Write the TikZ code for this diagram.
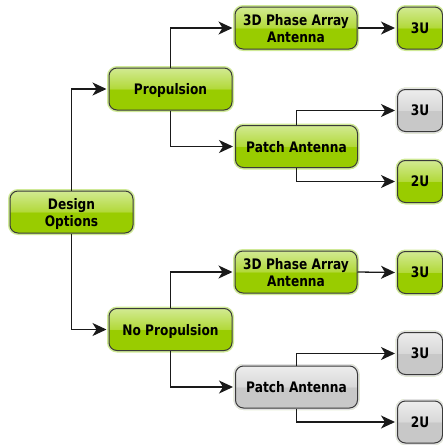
\documentclass[tikz,border=0pt]{standalone}
\usepackage{fontspec}
\setmainfont{DejaVu Sans}[FakeStretch=0.84]
\usetikzlibrary{arrows.meta}
\definecolor{gbot}{HTML}{99CC00}
\definecolor{gmid}{HTML}{B2D93A}
\definecolor{gtop}{HTML}{D2EA92}
\definecolor{gglow}{HTML}{CFE996}
\definecolor{kbot}{HTML}{C8C8C8}
\definecolor{kmid}{HTML}{D8D8D8}
\definecolor{ktop}{HTML}{EDEDED}
\definecolor{kglow}{HTML}{E2E2E2}
\definecolor{edge}{HTML}{3A3A3A}
\definecolor{wire}{HTML}{1A1A1A}
\pgfdeclareverticalshading{glossgreen}{100bp}{color(0bp)=(gbot); color(25bp)=(gbot);
  color(49.5bp)=(gbot); color(50.5bp)=(gmid); color(75bp)=(gtop); color(100bp)=(gtop)}
\pgfdeclareverticalshading{glossgrey}{100bp}{color(0bp)=(kbot); color(25bp)=(kbot);
  color(49.5bp)=(kbot); color(50.5bp)=(kmid); color(75bp)=(ktop); color(100bp)=(ktop)}
\tikzset{
  optbox/.style={draw=edge, line width=1pt, rounded corners=8pt, align=center,
    minimum width=123pt, minimum height=42pt, inner sep=2pt, shade, shading=glossgreen,
    font=\fontsize{14.5}{17}\selectfont\bfseries, text depth=0pt,
    preaction={draw=gglow, line width=4pt}},
  greybox/.style={optbox, shading=glossgrey, preaction={draw=kglow, line width=4pt}},
  sizebox/.style={optbox, minimum width=45pt},
  greysize/.style={greybox, minimum width=45pt},
  arr/.style={-{Stealth[length=14pt, width=13pt, inset=4pt]}, line width=1.3pt, draw=wire,
    shorten >=2pt}
}
\begin{document}
\begin{tikzpicture}[x=1pt,y=-1pt]
  \useasboundingbox (0,0) rectangle (443,445);
  % options
  \node[optbox] (design) at (71.5,212) {Design\\Options};
  \node[optbox] (prop) at (170.5,89) {Propulsion};
  \node[optbox] (noprop) at (170.5,329.5) {No Propulsion};
  % antennas
  \node[optbox, minimum width=122pt] (phaseA) at (296,28) {3D Phase Array\\Antenna};
  \node[optbox, minimum width=122pt] (patchA) at (296.5,146.5) {Patch Antenna};
  \node[optbox, minimum width=122pt] (phaseB) at (296,272) {3D Phase Array\\Antenna};
  \node[greybox, minimum width=122pt] (patchB) at (296.5,387) {Patch Antenna};
  % sizes
  \node[sizebox] (sizeA) at (420,28) {3U};
  \node[greysize] (sizeB) at (420,110.5) {3U};
  \node[sizebox] (sizeC) at (420,181.5) {2U};
  \node[sizebox] (sizeD) at (420,272.5) {3U};
  \node[greysize] (sizeE) at (420,353.5) {3U};
  \node[greysize] (sizeF) at (420,422) {2U};

  \draw[arr] (design.north) |- (prop.west);
  \draw[arr] (design.south) |- (noprop.west);
  \draw[arr] (prop.north) |- (phaseA.west);
  \draw[arr] (prop.south) |- (patchA.west);
  \draw[arr] (noprop.north) |- (phaseB.west);
  \draw[arr] (noprop.south) |- (patchB.west);
  \draw[arr] (phaseA.east) -- (sizeA.west);
  \draw[arr] (patchA.north) |- (sizeB.west);
  \draw[arr] (patchA.south) |- (sizeC.west);
  \draw[arr] (phaseB.east) -- (sizeD.west);
  \draw[arr] (patchB.north) |- (sizeE.west);
  \draw[arr] (patchB.south) |- (sizeF.west);
\end{tikzpicture}
\end{document}
